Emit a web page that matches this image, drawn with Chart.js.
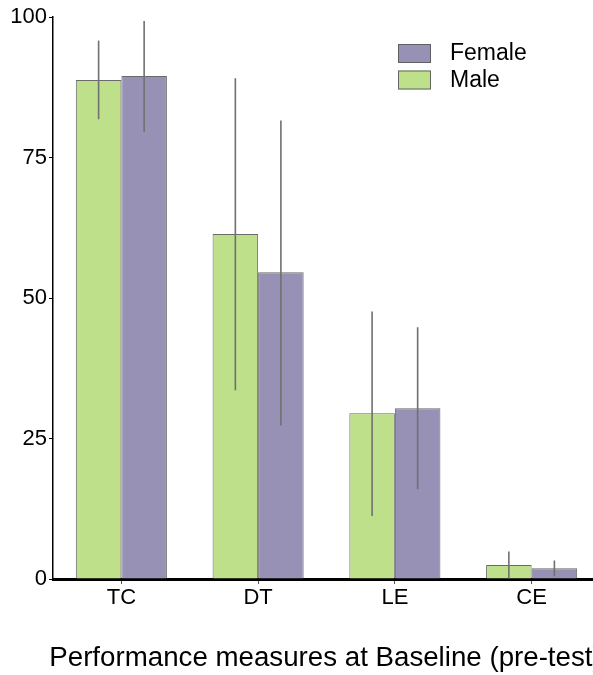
<!DOCTYPE html>
<html>
<head>
<meta charset="utf-8">
<script src="https://cdn.jsdelivr.net/npm/chart.js@4/dist/chart.umd.min.js"></script>
<style>
  html, body { margin: 0; padding: 0; background: #fff; overflow: hidden; }
  #wrap { width: 600px; height: 675px; }
</style>
</head>
<body>
<div id="wrap"><canvas id="chart" width="600" height="675"></canvas></div>
<script>
// data
const categories = ['TC', 'DT', 'LE', 'CE'];
const maleMeans = [88.8, 61.4, 29.5, 2.5];
const maleLow = [81.8, 33.6, 11.2, 0.1];
const maleHigh = [95.8, 89.1, 47.6, 4.9];
const femaleMeans = [89.5, 54.6, 30.4, 1.9];
const femaleLow = [79.6, 27.3, 16.0, 0.5];
const femaleHigh = [99.3, 81.6, 44.8, 3.3];
const yTicks = [0, 25, 50, 75, 100];
const xTitle = 'Performance measures at Baseline (pre-test)';

const FONT = "'Liberation Sans', Arial, sans-serif";
const green = '#bee08b';
const purple = '#9791b5';
const edge = 'rgba(90,90,90,0.9)';

// vertical error lines, no caps
const errorBars = {
    id: 'errorBars',
    afterDatasetsDraw(chart) {
        const y = chart.scales.y;
        const ctx = chart.ctx;
        ctx.save();
        ctx.strokeStyle = '#707070';
        ctx.lineWidth = 1.6;
        chart.data.datasets.forEach((ds, i) => {
            const meta = chart.getDatasetMeta(i);
            meta.data.forEach((bar, j) => {
                ctx.beginPath();
                ctx.moveTo(bar.x, y.getPixelForValue(ds.low[j]));
                ctx.lineTo(bar.x, y.getPixelForValue(ds.high[j]));
                ctx.stroke();
            });
        });
        ctx.restore();
    }
};

// legend floating in the top right, Female listed first
const floatLegend = {
    id: 'floatLegend',
    afterDraw(chart) {
        const ctx = chart.ctx;
        const area = chart.chartArea;
        const x = area.right - 202;
        let top = area.top + 27;
        ctx.save();
        ctx.font = '23px ' + FONT;
        ctx.textBaseline = 'middle';
        [...chart.data.datasets].reverse().forEach(ds => {
            ctx.fillStyle = ds.backgroundColor;
            ctx.fillRect(x, top, 33, 19);
            ctx.strokeStyle = edge;
            ctx.lineWidth = 1;
            ctx.strokeRect(x + 0.5, top + 0.5, 32, 18);
            ctx.fillStyle = '#000';
            ctx.fillText(ds.label, x + 52, top + 10);
            top += 26.5;
        });
        ctx.restore();
    }
};

// axis title, drawn unsqueezed so it runs off the right edge like the original
const axisTitle = {
    id: 'axisTitle',
    afterDraw(chart) {
        const ctx = chart.ctx;
        const area = chart.chartArea;
        ctx.save();
        ctx.font = '27.7px ' + FONT;
        ctx.fillStyle = '#000';
        ctx.textAlign = 'center';
        ctx.textBaseline = 'alphabetic';
        ctx.fillText(xTitle, (area.left + area.right) / 2 - 1, chart.height - 9);
        ctx.restore();
    }
};

new Chart(document.getElementById('chart'), {
    type: 'bar',
    data: {
        labels: categories,
        datasets: [
            {
                label: 'Male',
                data: maleMeans,
                low: maleLow,
                high: maleHigh,
                backgroundColor: green,
                borderColor: edge,
                borderWidth: 1
            },
            {
                label: 'Female',
                data: femaleMeans,
                low: femaleLow,
                high: femaleHigh,
                backgroundColor: purple,
                borderColor: edge,
                borderWidth: 1
            }
        ]
    },
    options: {
        responsive: false,
        animation: false,
        layout: { padding: { top: 17, left: 0, right: 0, bottom: 0 } },
        datasets: { bar: { categoryPercentage: 0.666, barPercentage: 1.0 } },
        plugins: {
            legend: { display: false },
            tooltip: { enabled: false }
        },
        scales: {
            x: {
                grid: { display: true, drawOnChartArea: false, offset: false, tickLength: 5, color: '#555', lineWidth: 1 },
                border: { display: true, color: '#000', width: 3 },
                ticks: { color: '#000', padding: 1, font: { family: FONT, size: 22 } },
                afterFit(scale) { scale.height = 96; }
            },
            y: {
                min: 0,
                max: 100,
                afterBuildTicks(scale) { scale.ticks = yTicks.map(v => ({ value: v })); },
                grid: { display: true, drawOnChartArea: false, tickLength: 4, color: '#000', lineWidth: 1 },
                border: { display: true, color: '#000', width: 1.5 },
                ticks: { color: '#000', padding: 2, font: { family: FONT, size: 22 } },
                afterFit(scale) { scale.width = 53; }
            }
        }
    },
    plugins: [errorBars, floatLegend, axisTitle]
});
</script>
</body>
</html>
